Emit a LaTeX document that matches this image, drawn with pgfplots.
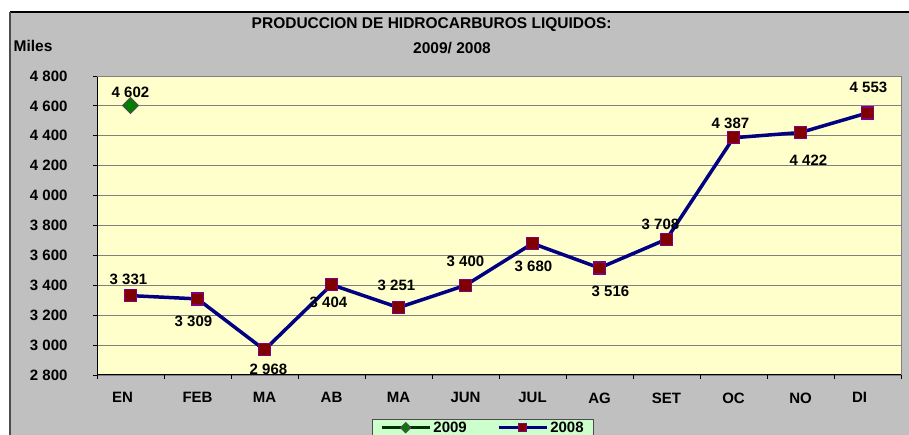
\documentclass[border=0pt]{standalone}
\usepackage{fontspec}
\setmainfont{Liberation Sans}
\usepackage{pgfplots}
\pgfplotsset{compat=1.18}
\usepackage{pgfplotstable}
\definecolor{bggray}{RGB}{192,192,192}
\definecolor{plotyellow}{RGB}{255,255,204}
\definecolor{navyline}{RGB}{0,0,128}
\definecolor{darkred}{RGB}{128,0,0}
\definecolor{purpleedge}{RGB}{128,0,128}
\definecolor{markgreen}{RGB}{0,128,0}
\definecolor{legendgreen}{RGB}{204,255,204}
\definecolor{gridgray}{RGB}{128,128,128}
\definecolor{darkgreenline}{RGB}{0,51,0}
\newcommand{\bigbf}{\bfseries\fontsize{15}{18}\selectfont}
\newcommand{\titlebf}{\bfseries\fontsize{15.5}{18}\selectfont}

\pgfplotstableread{
x y dx dy
1 3331 -2 16
2 3309 -4 -22
3 2968 4 -19
4 3404 -3 -18
5 3251 -2 22
6 3400 0 24
7 3680 1 -23
8 3516 11 -23
9 3708 -6 15
10 4387 -3 14
11 4422 8 -28
12 4553 1 26
}\dataB
\pgfplotstableread{
x y dx dy
1 4602 0 13
}\dataA

\begin{document}
\begin{tikzpicture}
\path[use as bounding box] (0pt,0pt) rectangle (909pt,435pt);
\begin{scope}
\clip (0pt,0pt) rectangle (909pt,435pt);
\fill[white] (0pt,0pt) rectangle (909pt,435pt);
\fill[bggray] (10pt,-5pt) rectangle (915pt,423pt);
\draw[black, line width=1.2pt] (10pt,423pt) -- (915pt,423pt);
\draw[black!70, line width=2pt] (10pt,-5pt) -- (10pt,423pt);
\node[font=\titlebf] at (431.7pt,410pt) {PRODUCCION DE HIDROCARBUROS LIQUIDOS:};
\node[font=\titlebf] at (452pt,386.7pt) {2009/ 2008};
\node[font=\titlebf] at (33pt,389.3pt) {Miles};
\begin{axis}[
  at={(97pt,60pt)}, anchor=south west, scale only axis,
  width=804pt, height=299pt,
  xmin=0.5, xmax=12.5, ymin=2800, ymax=4800,
  xtick={0.5,1.5,...,12.5}, x tick label as interval,
  xticklabels={EN\rule{16pt}{0pt},FEB,MA,AB,MA,JUN,JUL,AG,SET,OC,NO,DI\rule{16pt}{0pt}},
  ytick={2800,3000,...,4800},
  ymajorgrids, grid style={gridgray, line width=0.8pt},
  axis background/.style={fill=plotyellow},
  axis x line*=bottom, axis y line*=left,
  axis line style={black, line width=1pt, -},
  tick align=outside, major tick length=4pt,
  tick style={black, line width=0.8pt},
  ticklabel style={font=\bigbf},
  /pgf/number format/assume math mode=true,
  /pgf/number format/1000 sep={\ },
  yticklabel style={xshift=-22pt},
  xticklabel style={yshift=-10pt},
  clip=false,
  legend columns=2,
  legend style={at={(0.3417,-0.1472)}, anchor=north west, fill=legendgreen,
    draw=black!70, font=\bigbf, inner xsep=8pt, inner ysep=0.5pt,
    /tikz/every even column/.append style={column sep=28pt},
    cells={anchor=west}},
]
\draw[gridgray, line width=0.8pt] (rel axis cs:0,1) -- (rel axis cs:1,1) -- (rel axis cs:1,0);
\addplot[darkgreenline, line width=3.5pt, mark=square*, mark size=5.5pt,
  mark options={fill=markgreen, draw=black!70, line width=1.2pt, rotate=45, solid},
  legend image code/.code={\draw[mark repeat=2,mark phase=2,mark size=3.5pt] plot coordinates {(0pt,0pt) (24pt,0pt) (48pt,0pt)};},
  point meta=y, nodes near coords,
  visualization depends on={\thisrow{dx}\as\myDx},
  visualization depends on={\thisrow{dy}\as\myDy},
  every node near coord/.append style={anchor=center, xshift=\myDx pt, yshift=\myDy pt, font=\bigbf, text=black},
] table[x=x,y=y] {\dataA};
\addlegendentry{2009}
\addplot[navyline, line width=3.5pt, mark=square*, mark size=6pt,
  mark options={fill=darkred, draw=purpleedge, line width=1.2pt, solid},
  legend image code/.code={\draw[mark repeat=2,mark phase=2,mark size=4pt] plot coordinates {(0pt,0pt) (24pt,0pt) (48pt,0pt)};},
  point meta=y, nodes near coords,
  visualization depends on={\thisrow{dx}\as\myDx},
  visualization depends on={\thisrow{dy}\as\myDy},
  every node near coord/.append style={anchor=center, xshift=\myDx pt, yshift=\myDy pt, font=\bigbf, text=black},
] table[x=x,y=y] {\dataB};
\addlegendentry{2008}
\end{axis}
\end{scope}
\end{tikzpicture}
\end{document}
